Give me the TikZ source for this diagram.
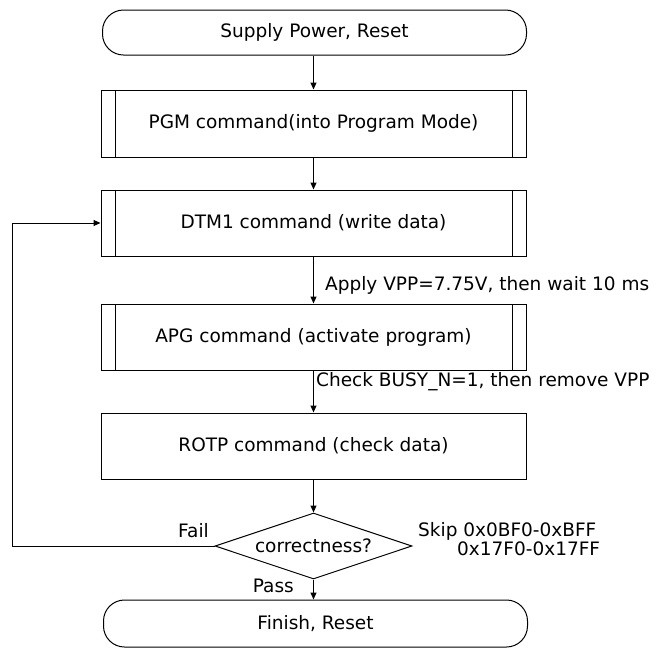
\documentclass[tikz,border=0pt]{standalone}
\usepackage{fontspec}
\setmainfont{DejaVu Sans}
\usetikzlibrary{arrows.meta,shapes.geometric}

\tikzset{
  txt/.style={font=\fontsize{18.5}{16}\selectfont},
  base/.style={draw, line width=1pt, inner sep=0pt, txt},
  terminal/.style={base, rectangle, rounded corners=21pt, minimum width=424pt, minimum height=45pt},
  stepbox/.style={base, rectangle, minimum width=425pt, minimum height=66pt},
  predef/.style={stepbox, path picture={
      \draw[line width=1pt] ([xshift=14pt]path picture bounding box.north west) -- ([xshift=14pt]path picture bounding box.south west);
      \draw[line width=1pt] ([xshift=-14pt]path picture bounding box.north east) -- ([xshift=-14pt]path picture bounding box.south east);}},
  decision/.style={base, diamond, shape aspect=3, minimum width=197pt, minimum height=66pt},
  flow/.style={line width=1pt, -{Triangle[length=7pt,width=6pt]}},
  note/.style={inner sep=0pt, txt}
}

\begin{document}
\begin{tikzpicture}[x=1pt,y=-1pt]
  \useasboundingbox (0,0) rectangle (657,649);

  % flow steps
  \node[terminal] (start) at (314.5,32.5) {Supply Power, Reset};
  \node[predef, minimum height=67pt] (pgm) at (313.5,123.5) {PGM command(into Program Mode)};
  \node[predef] (dtm) at (313.5,223) {DTM1 command (write data)};
  \node[predef] (apg) at (313.5,337) {APG command (activate program)};
  \node[stepbox] (rotp) at (313.5,446) {ROTP command (check data)};
  \node[decision] (chk) at (313.5,546) {correctness?};
  \node[terminal, minimum height=47pt] (fin) at (315.5,623.5) {Finish, Reset};

  % connectors
  \draw[flow] (start.south -| pgm.north) -- (pgm.north);
  \draw[flow] (pgm) -- (dtm);
  \draw[flow] (dtm) -- (apg);
  \draw[flow] (apg) -- (rotp);
  \draw[flow] (rotp) -- (chk);
  \draw[flow] (chk.south) -- (chk.south |- fin.north);
  \coordinate (loopbot) at (12,546);
  \coordinate (looptop) at (12,223);
  \draw[flow] (chk.west) -- (loopbot) -- (looptop) -- (dtm.west);

  % labels
  \node[note, anchor=west] (lblvpp) at (325,285) {Apply VPP=7.75V, then wait 10 ms};
  \node[note, anchor=west] (lblbusy) at (316,382) {Check BUSY\_N=1, then remove VPP};
  \node[note, anchor=east] (lblfail) at (209,531) {Fail};
  \node[note, anchor=east] (lblpass) at (294,586) {Pass};
  \node[note, anchor=north west, align=left] (lblskip) at (418,522.5) {Skip 0x0BF0-0xBFF\\\hspace*{39pt}0x17F0-0x17FF};
\end{tikzpicture}
\end{document}
